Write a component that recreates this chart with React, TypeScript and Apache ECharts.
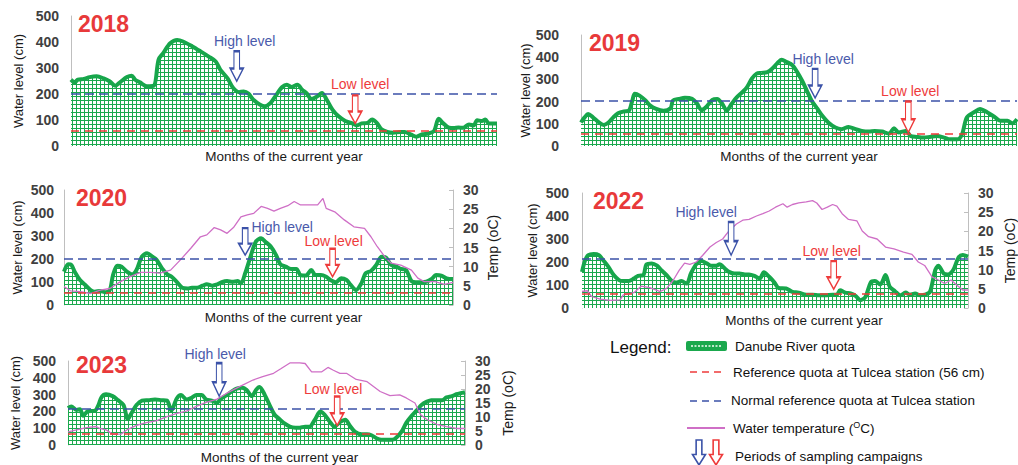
import React, { useEffect, useRef } from "react";
import * as echarts from "echarts";

// ---------- data (day of year, value) ----------
const years = ["2018", "2019", "2020", "2022", "2023"];

const level2018: [number, number][] = [[0,255],[3,245],[6,255],[11,258],[16,265],[22,268],[28,260],[33,249],[38,232],[42,245],[48,265],[52,270],[55,255],[59,245],[65,230],[71,232],[75,332],[79,357],[85,395],[91,408],[96,402],[104,383],[111,364],[118,344],[124,325],[128,293],[134,261],[139,223],[144,207],[148,210],[152,202],[156,179],[162,159],[166,153],[171,166],[175,191],[181,227],[185,236],[189,227],[194,236],[198,217],[202,202],[206,181],[211,191],[215,204],[219,179],[224,140],[229,115],[235,96],[241,87],[245,79],[249,87],[254,89],[258,102],[262,89],[266,64],[271,54],[276,51],[282,54],[286,54],[291,45],[296,36],[301,45],[306,48],[311,57],[315,105],[319,87],[324,70],[328,69],[332,71],[336,70],[341,83],[345,79],[348,99],[352,96],[355,102],[358,87],[362,87],[365,87]];

const level2019: [number, number][] = [[0,106],[3,129],[6,144],[10,129],[15,106],[19,95],[23,106],[27,129],[31,147],[36,156],[40,159],[43,205],[45,235],[49,227],[54,205],[58,182],[63,167],[69,159],[75,171],[77,205],[82,212],[87,217],[93,212],[97,192],[101,162],[105,177],[110,208],[114,212],[118,192],[122,160],[126,189],[130,217],[135,242],[139,265],[143,303],[147,326],[151,329],[156,333],[160,348],[164,371],[168,389],[172,379],[177,364],[181,333],[185,295],[189,250],[193,205],[198,167],[202,136],[207,106],[213,83],[218,76],[224,86],[230,76],[235,68],[241,65],[246,68],[252,65],[258,56],[262,80],[266,61],[272,68],[276,45],[281,41],[287,38],[292,41],[298,45],[304,38],[309,30],[315,30],[319,53],[323,129],[329,152],[334,167],[340,152],[346,132],[351,114],[357,114],[361,102],[365,121]];

const level2020: [number, number][] = [[0,145],[4,177],[7,174],[10,145],[15,109],[20,87],[25,65],[29,58],[34,61],[39,55],[43,65],[46,130],[50,171],[54,167],[59,145],[64,133],[68,152],[73,210],[78,225],[83,210],[87,196],[92,159],[97,133],[101,123],[106,99],[111,75],[116,72],[120,75],[125,75],[130,84],[134,90],[139,84],[144,90],[148,99],[153,104],[158,101],[163,104],[166,94],[170,138],[175,210],[180,275],[185,290],[189,275],[194,254],[199,217],[203,177],[208,167],[213,157],[218,157],[222,130],[227,128],[232,152],[236,130],[241,130],[246,123],[250,109],[255,99],[260,116],[265,109],[269,87],[274,65],[279,94],[283,138],[288,148],[293,174],[298,210],[302,206],[307,174],[312,167],[316,157],[321,152],[326,104],[330,99],[335,99],[340,101],[345,113],[349,130],[354,128],[359,116],[365,113]];

const level2022: [number, number][] = [[0,157],[3,208],[6,230],[11,235],[16,230],[20,208],[25,179],[30,143],[35,121],[39,117],[44,117],[49,128],[53,140],[58,143],[61,190],[66,194],[71,184],[75,165],[80,143],[85,117],[89,111],[94,117],[99,106],[103,150],[108,190],[113,204],[118,194],[122,184],[127,184],[130,190],[135,172],[139,157],[144,150],[149,150],[154,146],[158,146],[163,140],[168,128],[172,155],[177,136],[182,111],[186,87],[193,85],[199,70],[205,67],[212,58],[218,58],[224,55],[230,55],[237,58],[241,58],[244,77],[249,67],[254,63],[259,52],[263,34],[268,48],[273,111],[277,117],[282,102],[287,143],[291,92],[296,73],[301,55],[306,67],[310,58],[315,63],[320,55],[324,58],[329,70],[334,165],[337,184],[342,150],[346,146],[351,165],[356,219],[360,230],[365,223]];

const level2023: [number, number][] = [[0,219],[3,229],[8,209],[11,213],[14,174],[18,200],[25,205],[28,238],[31,287],[35,302],[41,291],[46,267],[51,238],[55,155],[58,186],[63,238],[68,264],[74,267],[80,271],[86,267],[91,264],[95,205],[100,277],[104,297],[109,271],[114,283],[118,297],[123,297],[127,271],[132,264],[137,252],[141,277],[146,297],[150,316],[155,335],[160,341],[164,329],[169,291],[173,329],[176,345],[181,297],[186,229],[190,180],[195,151],[199,128],[204,109],[209,103],[213,103],[218,109],[222,109],[227,151],[232,200],[236,180],[241,136],[245,109],[250,136],[255,151],[259,116],[264,78],[270,64],[275,64],[279,58],[284,39],[288,31],[293,31],[298,31],[302,45],[307,83],[311,132],[316,174],[321,209],[325,238],[330,258],[334,267],[339,267],[344,267],[348,283],[353,291],[357,302],[362,310],[365,314]];

const temp2020: [number, number][] = [[0,4.8],[6,3.7],[15,3.5],[25,3.0],[34,3.9],[43,4.3],[53,6.1],[62,7.4],[72,8.5],[81,8.5],[90,8.3],[100,9.1],[109,11.7],[119,14.8],[128,17.8],[134,18.3],[141,20.2],[147,19.6],[153,18.7],[159,20.2],[166,23.0],[172,23.5],[178,23.9],[185,25.7],[191,25.2],[197,24.5],[203,25.2],[210,25.9],[216,27.0],[222,26.1],[228,26.1],[238,26.1],[243,27.8],[246,25.2],[254,24.3],[263,22.2],[272,20.4],[282,20.0],[288,17.8],[294,15.2],[301,12.6],[307,10.9],[316,10.4],[326,9.1],[332,7.0],[338,6.1],[348,6.1],[357,5.4],[365,5.9]];

const temp2022: [number, number][] = [[0,4.3],[5,4.5],[9,3.0],[17,2.3],[27,2.0],[36,2.1],[39,3.4],[49,4.0],[56,5.7],[64,5.3],[74,4.3],[80,5.1],[86,7.1],[92,9.9],[97,11.7],[102,11.4],[108,12.0],[114,13.7],[121,15.9],[127,17.1],[133,18.0],[139,20.1],[146,21.9],[152,22.9],[158,23.1],[165,24.0],[171,24.6],[177,25.3],[183,26.3],[190,27.2],[194,26.3],[199,27.0],[205,27.4],[212,27.7],[218,28.0],[222,27.4],[227,25.7],[232,26.3],[237,27.0],[241,26.6],[246,24.6],[252,23.1],[260,22.7],[265,20.1],[271,18.6],[279,18.0],[287,15.9],[295,15.4],[304,14.6],[312,14.0],[318,12.0],[324,11.1],[331,8.1],[337,7.3],[343,6.4],[349,7.3],[356,5.6],[360,4.7],[365,4.7]];

const temp2023: [number, number][] = [[0,4.7],[8,5.4],[17,6.2],[26,6.6],[29,5.9],[35,5.4],[41,3.9],[49,3.9],[55,5.6],[63,7.0],[72,8.0],[81,8.6],[91,10.1],[100,11.3],[109,12.1],[118,13.8],[127,15.2],[137,16.4],[146,18.5],[155,20.3],[161,21.5],[170,23.2],[179,24.4],[189,25.6],[196,27.3],[204,29.3],[213,29.3],[218,29.1],[224,26.1],[233,26.1],[239,27.7],[244,26.7],[250,25.6],[256,25.6],[265,23.4],[275,22.6],[287,19.1],[296,17.6],[305,17.9],[311,16.8],[319,15.0],[324,10.9],[330,9.1],[339,7.4],[348,6.6],[357,5.9],[365,5.9]];

const normalQuota = [200, 206, 203, 212, 213];
const referenceQuota = [58, 57, 55, 64, 66];

// sampling campaigns: [day, level at arrow tip]
const highCampaign: [number, number][] = [[142, 249], [196, 217], [170, 217], [141, 230], [139, 291]];
const lowCampaign: [number, number][] = [[243.5, 87], [274, 61], [252, 123], [238, 82], [247.5, 116]];

const levels = [level2018, level2019, level2020, level2022, level2023];
const temps: ([number, number][] | null)[] = [null, null, temp2020, temp2022, temp2023];

// ---------- layout / style ----------
const GREEN = "#17a64b";
const BLUE = "#3b52a8";
const RED = "#ee3b3b";
const PINK = "#cf6fc6";
const FONT = "Liberation Sans";

const grids = [
  { left: 71, top: 16, width: 426, height: 130 },
  { left: 581, top: 35, width: 436, height: 111 },
  { left: 64, top: 190, width: 389, height: 115 },
  { left: 582, top: 193, width: 388, height: 115 },
  { left: 68, top: 361, width: 397, height: 86 },
];
const yNameGap = [46, 42, 40, 43, 46];
const yLabelMargin = [12, 22, 10, 13, 12];
const xNameGap = [3, 3, 5, 5, 5];
const xNameShift = [0, 0, 25, 29, 13];
const rightNameGap = [0, 0, 33, 35, 36];
const yearPos = [[78, 24], [589, 43], [76, 198], [593, 201], [76, 365]];
const highSize = [30, 29, 27, 33, 33];
const lowSize = [28, 31, 28, 28, 29];
const highOffset = [[8, -2], [8, -2], [37, 7], [-25, -2], [-4, -1]];
const lowOffset = [[5, -3], [2, -2], [1, 0], [-2, -2], [-4, 1]];

const ARROW = "path://M4,0L10,0L10,15L14,15L7,26L0,15L4,15Z";

function makePattern() {
  const c = document.createElement("canvas");
  c.width = 4;
  c.height = 4;
  const ctx = c.getContext("2d")!;
  ctx.fillStyle = "#1aa84d";
  ctx.fillRect(0, 0, 4, 4);
  ctx.fillStyle = "#ffffff";
  ctx.fillRect(1, 1, 3, 3);
  return c;
}

function arrowPoints(cx: number, top: number, w: number, h: number) {
  const s = w * 0.22;
  const hy = top + h * 0.58;
  return [
    [cx - s, top], [cx + s, top], [cx + s, hy], [cx + w / 2, hy],
    [cx, top + h], [cx - w / 2, hy], [cx - s, hy],
  ];
}

export default function App() {
  const ref = useRef<HTMLDivElement>(null);

  useEffect(() => {
    if (!ref.current) return;
    const chart = echarts.init(ref.current, undefined, { renderer: "svg" });
    const pattern = makePattern();

    const xAxis = grids.map((_, i) => ({
      type: "value",
      gridIndex: i,
      min: 0,
      max: 365,
      axisLine: { show: false },
      axisTick: { show: false },
      axisLabel: { show: false },
      splitLine: { show: false },
      name: "Months of the current year",
      nameLocation: "middle",
      nameGap: xNameGap[i],
      nameTextStyle: {
        fontSize: 13.5,
        color: "#1a1a1a",
        fontFamily: FONT,
        padding: [0, 0, 0, 2 * xNameShift[i]],
      },
    }));

    const yAxis: any[] = grids.map((_, i) => ({
      type: "value",
      gridIndex: i,
      min: 0,
      max: 500,
      interval: 100,
      position: "left",
      name: "Water level (cm)",
      nameLocation: "middle",
      nameGap: yNameGap[i],
      nameRotate: 90,
      nameTextStyle: { fontSize: 13, color: "#1a1a1a", fontFamily: FONT },
      axisLine: { show: true, lineStyle: { color: "#bfbfbf", width: 1 } },
      axisTick: { show: false },
      splitLine: { show: false },
      axisLabel: {
        fontSize: 14,
        fontWeight: "bold",
        color: "#404040",
        margin: yLabelMargin[i],
        fontFamily: FONT,
      },
    }));

    const rightIndex: Record<number, number> = {};
    [2, 3, 4].forEach((g) => {
      rightIndex[g] = yAxis.length;
      yAxis.push({
        type: "value",
        gridIndex: g,
        min: 0,
        max: 30,
        interval: 5,
        position: "right",
        name: "Temp (oC)",
        nameLocation: "middle",
        nameGap: rightNameGap[g],
        nameRotate: 90,
        nameTextStyle: { fontSize: 14, color: "#1a1a1a", fontFamily: FONT },
        axisLine: { show: true, lineStyle: { color: "#bfbfbf", width: 1 } },
        axisTick: { show: true, inside: true, length: 4, lineStyle: { color: "#bfbfbf" } },
        splitLine: { show: false },
        axisLabel: {
          fontSize: 14,
          fontWeight: "bold",
          color: "#404040",
          margin: 10,
          fontFamily: FONT,
        },
      });
    });

    const series: any[] = [];
    levels.forEach((data, i) => {
      series.push({
        type: "line",
        name: "Danube River quota " + years[i],
        xAxisIndex: i,
        yAxisIndex: i,
        data,
        symbol: "none",
        smooth: 0.3,
        lineStyle: { color: GREEN, width: 4 },
        areaStyle: { color: { image: pattern, repeat: "repeat" }, opacity: 1 },
        z: 2,
        markLine: {
          silent: true,
          symbol: "none",
          label: { show: false },
          data: [
            { yAxis: normalQuota[i], lineStyle: { color: BLUE, type: [9, 5], width: 1.6 } },
            { yAxis: referenceQuota[i], lineStyle: { color: "#f03a3a", type: [8, 6], width: 1.6 } },
          ],
        },
        markPoint: {
          silent: true,
          data: [
            {
              coord: highCampaign[i],
              symbol: ARROW,
              symbolSize: [13, highSize[i]],
              symbolOffset: [0, "-50%"],
              itemStyle: { color: "#ffffff", borderColor: BLUE, borderWidth: 1.6 },
              label: {
                show: true,
                position: "top",
                distance: 0,
                offset: highOffset[i],
                formatter: "High level",
                color: "#4a5aab",
                fontSize: 14,
                fontFamily: FONT,
              },
            },
            {
              coord: lowCampaign[i],
              symbol: ARROW,
              symbolSize: [13, lowSize[i]],
              symbolOffset: [0, "-50%"],
              itemStyle: { color: "#ffffff", borderColor: RED, borderWidth: 1.6 },
              label: {
                show: true,
                position: "top",
                distance: 0,
                offset: lowOffset[i],
                formatter: "Low level",
                color: RED,
                fontSize: 14,
                fontFamily: FONT,
              },
            },
          ],
        },
      });
      const t = temps[i];
      if (t) {
        series.push({
          type: "line",
          name: "Water temperature " + years[i],
          xAxisIndex: i,
          yAxisIndex: rightIndex[i],
          data: t,
          symbol: "none",
          lineStyle: { color: PINK, width: 1.3 },
          z: 3,
        });
      }
    });

    const yearTexts = years.map((y, i) => ({
      type: "text",
      x: yearPos[i][0],
      y: yearPos[i][1],
      z: 10,
      style: {
        text: y,
        fill: "#e8393a",
        font: `bold 23px "${FONT}"`,
        verticalAlign: "middle",
      },
    }));

    const legendFont = `13.5px "${FONT}"`;
    const legend: any[] = [
      { type: "text", x: 610, y: 347, style: { text: "Legend:", fill: "#111", font: `17px "${FONT}"`, verticalAlign: "middle" } },
      { type: "rect", shape: { x: 686, y: 341, width: 41, height: 10, r: 2 }, style: { fill: "#1aa84d" } },
      { type: "line", shape: { x1: 691, y1: 346, x2: 722, y2: 346 }, style: { stroke: "#bfe8cc", lineWidth: 2, lineDash: [2, 1.5] } },
      { type: "text", x: 735, y: 346, style: { text: "Danube River quota", fill: "#111", font: legendFont, verticalAlign: "middle" } },
      { type: "line", shape: { x1: 690, y1: 372, x2: 725, y2: 372 }, style: { stroke: RED, lineWidth: 1.5, lineDash: [7, 5] } },
      { type: "text", x: 733, y: 372, style: { text: "Reference quota at Tulcea station (56 cm)", fill: "#111", font: legendFont, verticalAlign: "middle" } },
      { type: "line", shape: { x1: 690, y1: 401, x2: 725, y2: 401 }, style: { stroke: BLUE, lineWidth: 1.5, lineDash: [7, 5] } },
      { type: "text", x: 731, y: 400, style: { text: "Normal reference quota at Tulcea station", fill: "#111", font: legendFont, verticalAlign: "middle" } },
      { type: "line", shape: { x1: 687, y1: 428, x2: 725, y2: 428 }, style: { stroke: PINK, lineWidth: 1.8 } },
      {
        type: "text",
        x: 733,
        y: 428,
        style: {
          text: "{a|Water temperature (}{s|O}{a|C)}",
          verticalAlign: "middle",
          rich: {
            a: { fontSize: 13.5, fontFamily: FONT, fill: "#111", color: "#111" },
            s: { fontSize: 9, fontFamily: FONT, fill: "#111", color: "#111", verticalAlign: "top", padding: [0, 0, 6, 0] },
          },
        },
      },
      { type: "polygon", shape: { points: arrowPoints(699, 440, 13, 25) }, style: { fill: "#fff", stroke: BLUE, lineWidth: 1.6 } },
      { type: "polygon", shape: { points: arrowPoints(716, 440, 13, 25) }, style: { fill: "#fff", stroke: RED, lineWidth: 1.6 } },
      { type: "text", x: 735, y: 456, style: { text: "Periods of sampling campaigns", fill: "#111", font: legendFont, verticalAlign: "middle" } },
    ];

    chart.setOption({
      animation: false,
      backgroundColor: "#ffffff",
      grid: grids.map((g) => ({ ...g, containLabel: false })),
      xAxis,
      yAxis,
      series,
      graphic: [...yearTexts, ...legend],
    });

    return () => chart.dispose();
  }, []);

  return (
    <div
      ref={ref}
      style={{ position: "absolute", left: 0, top: 0, width: 1018, height: 465 }}
    />
  );
}
